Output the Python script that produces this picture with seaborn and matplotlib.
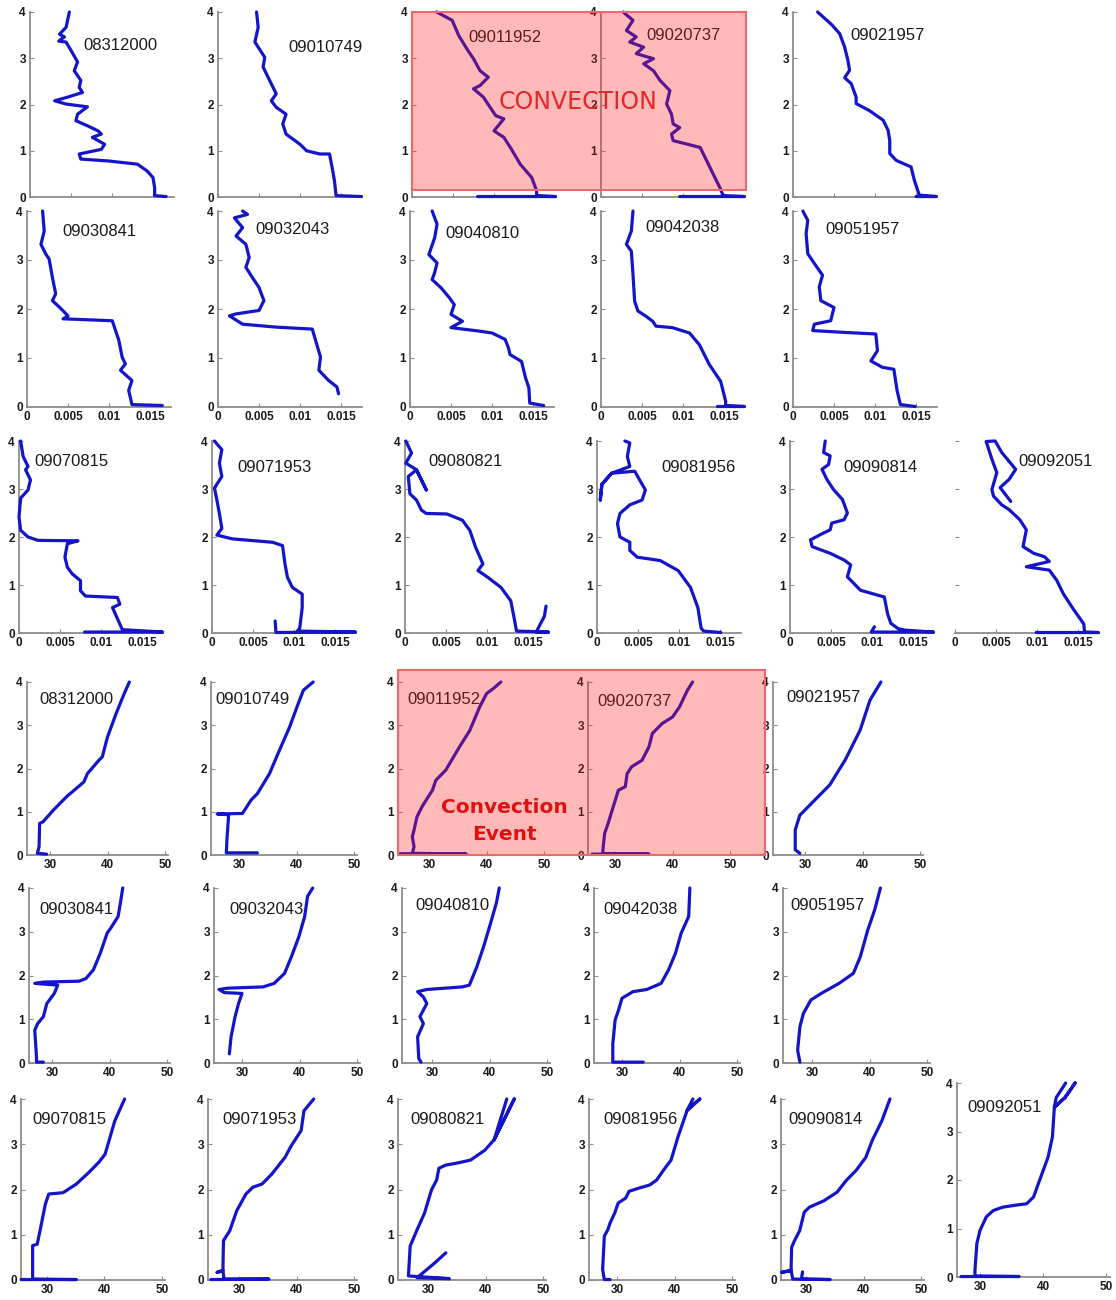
"""
Radiosonde profiles: specific humidity (top) and potential temperature (bottom)
vs height (km), one small panel per launch. Convection event highlighted.
"""

import pandas as pd
import matplotlib
matplotlib.use('Agg')
import matplotlib.pyplot as plt
import seaborn as sns
from matplotlib.patches import Rectangle

# ---- specific humidity (kg/kg), height (km) ----
q_08312000 = [(0.0048, 4.0), (0.0044, 3.67), (0.0036, 3.52), (0.0042, 3.46), (0.0035, 3.37), (0.0044, 3.35),
              (0.0050, 3.17), (0.0058, 2.92), (0.0054, 2.73), (0.0062, 2.52), (0.0060, 2.37), (0.0064, 2.26),
              (0.0046, 2.16), (0.0030, 2.08), (0.0044, 2.01), (0.0070, 1.95), (0.0058, 1.79), (0.0056, 1.65),
              (0.0070, 1.54), (0.0083, 1.43), (0.0087, 1.36), (0.0076, 1.29), (0.0091, 1.14), (0.0087, 1.03),
              (0.0060, 0.93), (0.0062, 0.82), (0.0095, 0.78), (0.0131, 0.71), (0.0143, 0.56), (0.0150, 0.42),
              (0.0152, 0.20), (0.0152, 0.03), (0.0166, 0.01)]
q_09010749 = [(0.0047, 4.0), (0.0049, 3.67), (0.0045, 3.35), (0.0057, 3.02), (0.0055, 2.81), (0.0063, 2.52),
              (0.0071, 2.23), (0.0065, 2.08), (0.0071, 1.94), (0.0083, 1.79), (0.0079, 1.58), (0.0083, 1.36),
              (0.0100, 1.14), (0.0108, 1.00), (0.0124, 0.93), (0.0136, 0.93), (0.0140, 0.56), (0.0142, 0.35),
              (0.0144, 0.03), (0.0175, 0.01)]
q_09011952 = [(0.0030, 4.0), (0.0049, 3.82), (0.0057, 3.49), (0.0067, 3.20), (0.0075, 2.99), (0.0083, 2.73),
              (0.0093, 2.59), (0.0083, 2.41), (0.0075, 2.34), (0.0087, 2.16), (0.0102, 1.76), (0.0112, 1.69),
              (0.0100, 1.43), (0.0112, 1.29), (0.0120, 1.07), (0.0132, 0.71), (0.0146, 0.42), (0.0152, 0.13),
              (0.0152, 0.03), (0.0175, 0.01), (0.0080, 0.01)]
q_09020737 = [(0.0027, 4.0), (0.0039, 3.82), (0.0031, 3.60), (0.0043, 3.46), (0.0035, 3.35), (0.0052, 3.24),
              (0.0043, 3.10), (0.0064, 2.99), (0.0052, 2.88), (0.0064, 2.73), (0.0072, 2.52), (0.0084, 2.30),
              (0.0080, 2.01), (0.0086, 1.79), (0.0088, 1.58), (0.0096, 1.50), (0.0086, 1.36), (0.0088, 1.22),
              (0.0121, 1.07), (0.0129, 0.78), (0.0137, 0.49), (0.0145, 0.20), (0.0149, 0.03), (0.0175, 0.01),
              (0.0096, 0.01)]
q_09021957 = [(0.0030, 4.0), (0.0047, 3.73), (0.0057, 3.53), (0.0063, 3.24), (0.0067, 2.95), (0.0069, 2.74),
              (0.0063, 2.58), (0.0071, 2.45), (0.0077, 2.16), (0.0077, 2.02), (0.0093, 1.87), (0.0110, 1.66),
              (0.0116, 1.44), (0.0118, 1.22), (0.0118, 0.94), (0.0126, 0.79), (0.0144, 0.65), (0.0148, 0.36),
              (0.0154, 0.04), (0.0175, 0.01), (0.0150, 0.01)]
q_09030841 = [(0.0019, 4.0), (0.0021, 3.59), (0.0017, 3.32), (0.0023, 3.12), (0.0027, 3.02), (0.0031, 2.64),
              (0.0035, 2.31), (0.0031, 2.17), (0.0040, 2.03), (0.0050, 1.86), (0.0044, 1.80), (0.0104, 1.76),
              (0.0108, 1.56), (0.0112, 1.36), (0.0116, 1.02), (0.0120, 0.88), (0.0114, 0.75), (0.0128, 0.54),
              (0.0124, 0.34), (0.0128, 0.05), (0.0165, 0.03)]
q_09032043 = [(0.0030, 4.0), (0.0036, 3.93), (0.0020, 3.86), (0.0030, 3.66), (0.0022, 3.49), (0.0034, 3.32),
              (0.0038, 3.05), (0.0034, 2.85), (0.0042, 2.64), (0.0050, 2.44), (0.0056, 2.17), (0.0050, 1.97),
              (0.0022, 1.90), (0.0014, 1.86), (0.0030, 1.69), (0.0071, 1.63), (0.0115, 1.59), (0.0119, 1.36),
              (0.0125, 1.02), (0.0123, 0.75), (0.0135, 0.54), (0.0145, 0.41), (0.0147, 0.27)]
q_09040810 = [(0.0027, 4.0), (0.0033, 3.73), (0.0030, 3.45), (0.0023, 3.11), (0.0033, 2.94), (0.0030, 2.74),
              (0.0027, 2.60), (0.0038, 2.43), (0.0048, 2.23), (0.0054, 2.09), (0.0050, 1.89), (0.0064, 1.75),
              (0.0050, 1.62), (0.0084, 1.55), (0.0100, 1.51), (0.0116, 1.38), (0.0120, 1.21), (0.0122, 1.07),
              (0.0136, 0.93), (0.0141, 0.59), (0.0145, 0.39), (0.0146, 0.08), (0.0163, 0.03)]
q_09042038 = [(0.0039, 4.0), (0.0037, 3.59), (0.0031, 3.32), (0.0037, 3.18), (0.0039, 2.71), (0.0041, 2.16),
              (0.0045, 1.96), (0.0055, 1.85), (0.0063, 1.75), (0.0067, 1.65), (0.0087, 1.62), (0.0108, 1.51),
              (0.0120, 1.27), (0.0132, 0.87), (0.0146, 0.52), (0.0152, 0.12), (0.0152, 0.03), (0.0175, 0.01),
              (0.0142, 0.01)]
q_09051957 = [(0.0012, 4.0), (0.0018, 3.81), (0.0016, 3.54), (0.0018, 3.13), (0.0026, 2.93), (0.0036, 2.69),
              (0.0032, 2.45), (0.0034, 2.17), (0.0050, 2.03), (0.0046, 1.76), (0.0026, 1.69), (0.0024, 1.56),
              (0.0065, 1.52), (0.0101, 1.49), (0.0103, 1.15), (0.0095, 0.94), (0.0109, 0.81), (0.0123, 0.77),
              (0.0127, 0.33), (0.0131, 0.05), (0.0149, 0.01)]
q_09070815 = [(0.0002, 4.0), (0.0005, 3.68), (0.0011, 3.47), (0.0008, 3.40), (0.0014, 3.19), (0.0011, 2.98),
              (0.0002, 2.81), (0.0000, 2.42), (0.0002, 2.14), (0.0011, 2.00), (0.0023, 1.93), (0.0072, 1.92),
              (0.0059, 1.86), (0.0056, 1.58), (0.0059, 1.37), (0.0065, 1.23), (0.0075, 1.09), (0.0075, 0.88),
              (0.0081, 0.77), (0.0120, 0.74), (0.0123, 0.60), (0.0114, 0.53), (0.0126, 0.07), (0.0175, 0.02),
              (0.0080, 0.02)]
q_09071953 = [(0.0003, 4.0), (0.0012, 3.82), (0.0009, 3.54), (0.0012, 3.26), (0.0003, 3.02), (0.0006, 2.77),
              (0.0009, 2.49), (0.0012, 2.18), (0.0006, 2.04), (0.0025, 1.96), (0.0074, 1.89), (0.0086, 1.82),
              (0.0089, 1.44), (0.0092, 1.16), (0.0098, 0.95), (0.0110, 0.81), (0.0110, 0.53), (0.0107, 0.10),
              (0.0104, 0.04), (0.0175, 0.02), (0.0078, 0.01), (0.0077, 0.25)]
q_09080821 = [(0.0001, 4.0), (0.0008, 3.75), (0.0001, 3.54), (0.0014, 3.40), (0.0026, 2.98), (0.0014, 3.40),
              (0.0004, 3.26), (0.0006, 2.90), (0.0014, 2.77), (0.0020, 2.56), (0.0026, 2.49), (0.0051, 2.48),
              (0.0070, 2.35), (0.0079, 2.14), (0.0086, 1.79), (0.0095, 1.44), (0.0089, 1.30), (0.0101, 1.16),
              (0.0117, 0.95), (0.0129, 0.67), (0.0133, 0.32), (0.0136, 0.04), (0.0175, 0.02), (0.0160, 0.02),
              (0.0170, 0.35), (0.0172, 0.56)]
q_09081956 = [(0.0034, 4.0), (0.0040, 3.96), (0.0037, 3.68), (0.0040, 3.47), (0.0018, 3.33), (0.0006, 3.10),
              (0.0004, 2.77), (0.0006, 3.10), (0.0018, 3.33), (0.0046, 3.37), (0.0059, 2.98), (0.0055, 2.77),
              (0.0040, 2.67), (0.0028, 2.49), (0.0025, 2.28), (0.0028, 2.00), (0.0040, 1.89), (0.0040, 1.72),
              (0.0049, 1.58), (0.0077, 1.51), (0.0099, 1.30), (0.0114, 0.95), (0.0123, 0.53), (0.0127, 0.10),
              (0.0130, 0.04), (0.0151, 0.01)]
q_09090814 = [(0.0043, 4.0), (0.0041, 3.76), (0.0049, 3.69), (0.0047, 3.51), (0.0039, 3.41), (0.0045, 3.20),
              (0.0053, 2.99), (0.0064, 2.78), (0.0070, 2.50), (0.0066, 2.36), (0.0051, 2.29), (0.0049, 2.15),
              (0.0037, 2.05), (0.0025, 1.94), (0.0027, 1.80), (0.0049, 1.66), (0.0066, 1.52), (0.0074, 1.42),
              (0.0070, 1.17), (0.0078, 1.03), (0.0086, 0.89), (0.0115, 0.75), (0.0119, 0.40), (0.0123, 0.20),
              (0.0132, 0.09), (0.0140, 0.06), (0.0175, 0.02), (0.0099, 0.02), (0.0103, 0.13)]
q_09092051 = [(0.0068, 2.74), (0.0055, 3.03), (0.0066, 3.20), (0.0074, 3.41), (0.0057, 3.76), (0.0049, 4.0),
              (0.0038, 3.99), (0.0045, 3.62), (0.0051, 3.34), (0.0045, 2.99), (0.0047, 2.85), (0.0057, 2.67),
              (0.0066, 2.57), (0.0079, 2.36), (0.0087, 2.15), (0.0083, 1.80), (0.0096, 1.66), (0.0109, 1.59),
              (0.0115, 1.49), (0.0087, 1.38), (0.0115, 1.31), (0.0124, 1.10), (0.0132, 0.82), (0.0145, 0.48),
              (0.0157, 0.19), (0.0158, 0.02), (0.0175, 0.01), (0.0099, 0.01)]

# ---- potential temperature (C), height (km) ----
th_08312000 = [(43.8, 4.0), (42.9, 3.73), (41.5, 3.27), (40.0, 2.73), (39.1, 2.27), (38.5, 2.19), (36.5, 1.88),
               (35.9, 1.69), (32.9, 1.35), (30.6, 1.04), (28.8, 0.77), (28.2, 0.73), (28.1, 0.19), (27.8, 0.04),
               (29.4, 0.02)]
th_09010749 = [(42.9, 4.0), (41.2, 3.81), (40.3, 3.50), (38.8, 2.96), (36.8, 2.35), (35.3, 1.88), (33.2, 1.42),
               (32.1, 1.27), (30.6, 0.96), (26.2, 0.95), (28.2, 0.93), (27.9, 0.35), (27.8, 0.05), (33.2, 0.05)]
th_09011952 = [(42.5, 4.0), (41.2, 3.85), (40.0, 3.73), (38.8, 3.42), (37.1, 2.88), (35.3, 2.50), (32.9, 1.96),
               (31.2, 1.73), (30.6, 1.50), (28.8, 1.12), (27.9, 0.88), (27.4, 0.58), (27.1, 0.42), (27.4, 0.19),
               (27.1, 0.04), (36.5, 0.02), (25.0, 0.03)]
th_09020737 = [(43.5, 4.0), (42.6, 3.81), (41.2, 3.42), (40.0, 3.19), (38.2, 3.04), (36.5, 2.81), (35.9, 2.50),
               (34.7, 2.19), (32.9, 2.04), (32.1, 1.88), (31.8, 1.58), (30.6, 1.50), (29.7, 1.12), (28.8, 0.73),
               (28.2, 0.50), (27.9, 0.12), (27.9, 0.03), (35.9, 0.02), (26.0, 0.02)]
th_09021957 = [(43.2, 4.0), (41.3, 3.58), (39.6, 2.89), (37.0, 2.20), (34.3, 1.62), (31.7, 1.27), (29.1, 0.92),
               (28.3, 0.58), (28.3, 0.12), (29.1, 0.04)]
th_09030841 = [(42.3, 4.0), (41.9, 3.66), (41.5, 3.35), (40.2, 3.08), (39.6, 2.97), (38.4, 2.51), (37.2, 2.13),
               (35.9, 1.93), (34.7, 1.87), (28.5, 1.85), (27.0, 1.82), (31.0, 1.78), (30.4, 1.59), (29.1, 1.36),
               (28.5, 1.06), (27.5, 0.90), (27.0, 0.75), (27.3, 0.14), (27.3, 0.02), (28.5, 0.02)]
th_09032043 = [(42.3, 4.0), (41.4, 3.81), (40.9, 3.35), (39.9, 2.89), (38.6, 2.43), (37.4, 2.05), (35.6, 1.82),
               (33.7, 1.74), (27.5, 1.71), (26.0, 1.68), (26.9, 1.61), (30.0, 1.59), (29.4, 1.36), (28.8, 1.06),
               (28.1, 0.60), (27.8, 0.21)]
th_09040810 = [(41.7, 4.0), (41.2, 3.66), (40.2, 3.20), (39.0, 2.67), (37.8, 2.20), (36.5, 1.78), (35.3, 1.74),
               (29.1, 1.68), (27.5, 1.63), (28.5, 1.51), (29.1, 1.36), (27.9, 1.06), (28.5, 0.90), (27.5, 0.60),
               (27.7, 0.10), (28.1, 0.02)]
th_09042038 = [(41.8, 4.0), (41.6, 3.35), (40.3, 2.97), (39.3, 2.51), (38.1, 2.13), (36.8, 1.82), (34.3, 1.68),
               (31.9, 1.63), (30.0, 1.48), (29.4, 1.21), (28.8, 0.98), (28.4, 0.44), (28.4, 0.02), (33.7, 0.02)]
th_09051957 = [(41.9, 4.0), (40.9, 3.50), (39.7, 3.04), (38.4, 2.43), (37.2, 2.05), (34.7, 1.82), (31.6, 1.59),
               (29.8, 1.44), (28.5, 1.13), (27.9, 0.83), (27.5, 0.29), (27.9, 0.02)]
th_09070815 = [(43.5, 4.0), (41.8, 3.52), (40.1, 2.78), (39.0, 2.60), (37.3, 2.38), (35.1, 2.12), (32.8, 1.93),
               (30.3, 1.90), (29.7, 1.67), (28.9, 1.16), (28.3, 0.79), (27.5, 0.76), (27.5, 0.02), (35.1, 0.01),
               (25.5, 0.01)]
th_09071953 = [(43.0, 4.0), (41.3, 3.74), (40.8, 3.30), (39.1, 2.97), (38.0, 2.71), (35.7, 2.34), (34.0, 2.12),
               (32.4, 2.05), (31.2, 1.90), (29.6, 1.53), (28.4, 1.09), (27.3, 0.87), (27.2, 0.21), (26.2, 0.17),
               (27.2, 0.21), (27.4, 0.02), (35.2, 0.02), (25.1, 0.01)]
th_09080821 = [(43.7, 4.0), (41.5, 3.10), (45.0, 4.0), (41.5, 3.10), (39.9, 2.87), (37.4, 2.65), (34.9, 2.58),
               (33.1, 2.54), (31.9, 2.47), (31.5, 2.21), (30.6, 1.99), (29.4, 1.48), (28.1, 1.11), (26.9, 0.75),
               (26.6, 0.09), (33.7, 0.03), (28.1, 0.05), (31.2, 0.38), (33.1, 0.60)]
th_09081956 = [(43.2, 4.0), (42.2, 3.75), (44.4, 4.0), (42.2, 3.75), (40.6, 3.16), (39.4, 2.65), (38.1, 2.43),
               (36.9, 2.21), (35.7, 2.10), (33.8, 2.03), (32.1, 1.96), (31.5, 1.81), (30.2, 1.70), (29.6, 1.48),
               (28.8, 1.26), (28.4, 1.11), (27.8, 0.97), (27.5, 0.23), (27.8, 0.01), (28.8, 0.01)]
th_09090814 = [(44.6, 4.0), (43.2, 3.52), (41.5, 3.08), (40.4, 2.71), (38.7, 2.42), (37.0, 2.20), (35.4, 1.94),
               (33.1, 1.75), (30.6, 1.61), (29.7, 1.50), (28.9, 1.09), (28.0, 0.87), (27.5, 0.72), (27.4, 0.21),
               (25.8, 0.17), (27.4, 0.21), (27.7, 0.02), (34.2, 0.01), (29.2, 0.02), (29.4, 0.18)]
th_09092051 = [(43.6, 4.0), (42.1, 3.70), (41.8, 3.50), (43.5, 3.70), (45.1, 4.0), (43.5, 3.70), (41.8, 3.50),
               (41.5, 2.89), (40.8, 2.47), (39.5, 2.01), (38.5, 1.65), (37.4, 1.51), (35.6, 1.48), (33.6, 1.44),
               (32.1, 1.37), (31.0, 1.24), (30.0, 0.96), (29.5, 0.69), (29.2, 0.14), (29.2, 0.02), (36.2, 0.01),
               (27.0, 0.01)]

Q_TICKS = [0, 0.005, 0.01, 0.015]
Q_TICKLABELS = ['0', '0.005', '0.01', '0.015']
TH_TICKS = [30, 40, 50]
TH_TICKLABELS = ['30', '40', '50']
Z_TICKS = [0, 1, 2, 3, 4]
Z_TICKLABELS = ['0', '1', '2', '3', '4']

W, H = 1116, 1300
BLUE = '#1414c8'
GREY = '#8c8c8c'
Q_MAX = 0.0175
Q_PPU = 8200.0   # pixels per kg/kg
TH_MAX = 50.6

sns.set_style('white')
plt.rcParams['font.family'] = ['Liberation Sans', 'DejaVu Sans']

fig = plt.figure(figsize=(W / 100, H / 100), dpi=100)


def fx(x):
    return x / W


def fy(y):
    return 1 - y / H


def make_axes(left, top, right, bottom):
    return fig.add_axes([fx(left), fy(bottom), (right - left) / W, (bottom - top) / H])


def draw_profile(ax, pts):
    df = pd.DataFrame(pts, columns=['x', 'z'])
    sns.lineplot(data=df, x='x', y='z', sort=False, estimator=None, color=BLUE,
                 lw=2.3, ax=ax, legend=False)
    for ln in ax.lines:
        ln.set_clip_on(False)
        ln.set_zorder(3)
        ln.set_solid_joinstyle('round')
        ln.set_solid_capstyle('round')


def style_axes(ax, ticks, ticklabels, show_x=True, show_y=True, hide_left=False):
    sns.despine(ax=ax)
    for s in ['left', 'bottom']:
        ax.spines[s].set_color(GREY)
        ax.spines[s].set_linewidth(1.3)
    if hide_left:
        ax.spines['left'].set_visible(False)
    ax.set_ylim(0, 4)
    ax.set_yticks(Z_TICKS)
    ax.set_yticklabels(Z_TICKLABELS if show_y else [])
    ax.set_xticks(ticks)
    ax.set_xticklabels(ticklabels if show_x else [])
    ax.tick_params(bottom=True, left=True, direction='in', length=3, width=0.8,
                   color=GREY, labelsize=8.5, labelcolor='#1a1a1a', pad=3)
    for t in ax.get_xticklabels() + ax.get_yticklabels():
        t.set_fontweight('bold')
    ax.set_xlabel('')
    ax.set_ylabel('')
    ax.patch.set_alpha(0)


def label(x, y, text):
    fig.text(fx(x), fy(y), text, ha='left', va='center', fontsize=12, color='#1a1a1a', zorder=3)


# humidity panels: (profile, name, spine left, top, bottom, label x, label y, x labels, y labels)
q_panels = [
    (q_08312000, '08312000', 30, 12, 197, 83, 45, False, True),
    (q_09010749, '09010749', 218, 12, 197, 288, 47, False, True),
    (q_09011952, '09011952', 412, 12, 197, 468, 38, False, True),
    (q_09020737, '09020737', 601, 12, 197, 646, 35, False, True),
    (q_09021957, '09021957', 793, 12, 197, 850, 35, False, True),
    (q_09030841, '09030841', 27, 211, 407, 62, 232, True, True),
    (q_09032043, '09032043', 218, 211, 407, 255, 230, True, True),
    (q_09040810, '09040810', 410, 211, 407, 445, 233, True, True),
    (q_09042038, '09042038', 601, 211, 407, 645, 228, True, True),
    (q_09051957, '09051957', 793, 211, 407, 825, 230, True, True),
    (q_09070815, '09070815', 19, 441, 633, 34, 462, True, True),
    (q_09071953, '09071953', 212, 441, 633, 237, 467, True, True),
    (q_09080821, '09080821', 405, 441, 633, 428, 462, True, True),
    (q_09081956, '09081956', 597, 441, 633, 661, 467, True, True),
    (q_09090814, '09090814', 790, 441, 633, 843, 467, True, True),
    (q_09092051, '09092051', 955, 441, 633, 1018, 462, True, False),
]

for prof, name, left, top, bottom, lx, ly, sx, sy in q_panels:
    ax = make_axes(left, top, left + Q_MAX * Q_PPU, bottom)
    draw_profile(ax, prof)
    ax.set_xlim(0, Q_MAX)
    style_axes(ax, Q_TICKS, Q_TICKLABELS, show_x=sx, show_y=sy, hide_left=not sy)
    label(lx, ly, name)

# theta panels: (profile, name, spine left, x of 30 tick, px per K, top, bottom, label x, label y)
th_panels = [
    (th_08312000, '08312000', 27, 50, 5.75, 682, 855, 39, 700),
    (th_09010749, '09010749', 211, 239, 5.75, 682, 855, 215, 700),
    (th_09011952, '09011952', 398, 429, 5.75, 682, 855, 407, 700),
    (th_09020737, '09020737', 588, 615, 5.75, 682, 855, 597, 702),
    (th_09021957, '09021957', 773, 805, 5.75, 682, 855, 786, 697),
    (th_09030841, '09030841', 29, 52, 5.75, 888, 1063, 39, 910),
    (th_09032043, '09032043', 214, 242, 5.75, 888, 1063, 229, 910),
    (th_09040810, '09040810', 402, 432, 5.75, 888, 1063, 415, 905),
    (th_09042038, '09042038', 594, 622, 5.75, 888, 1063, 603, 909),
    (th_09051957, '09051957', 783, 812, 5.75, 888, 1063, 790, 905),
    (th_09070815, '09070815', 21, 47, 5.75, 1099, 1280, 32, 1120),
    (th_09071953, '09071953', 208, 239, 5.75, 1099, 1280, 222, 1120),
    (th_09080821, '09080821', 398, 428, 5.75, 1099, 1280, 410, 1120),
    (th_09081956, '09081956', 589, 617, 5.75, 1099, 1280, 603, 1120),
    (th_09090814, '09090814', 781, 806, 5.75, 1099, 1280, 788, 1120),
    (th_09092051, '09092051', 957, 980, 6.3, 1083, 1277, 967, 1108),
]

for prof, name, left, x30, ppu, top, bottom, lx, ly in th_panels:
    lo = 30 - (x30 - left) / ppu
    ax = make_axes(left, top, left + (TH_MAX - lo) * ppu, bottom)
    draw_profile(ax, prof)
    ax.set_xlim(lo, TH_MAX)
    style_axes(ax, TH_TICKS, TH_TICKLABELS)
    label(lx, ly, name)

# convection highlight boxes
for x0, y0, x1, y1 in [(412, 12, 746, 190), (398, 670, 765, 855)]:
    fig.patches.append(Rectangle((fx(x0), fy(y1)), (x1 - x0) / W, (y1 - y0) / H,
                                 transform=fig.transFigure, facecolor='#ff1a1a', alpha=0.3,
                                 edgecolor='none', zorder=5))
    fig.patches.append(Rectangle((fx(x0), fy(y1)), (x1 - x0) / W, (y1 - y0) / H,
                                 transform=fig.transFigure, facecolor='none',
                                 edgecolor='#e86a6a', lw=1.5, zorder=5))

fig.text(fx(578), fy(102), 'CONVECTION', ha='center', va='center', fontsize=17,
         color='#e02828', family='DejaVu Sans', zorder=6)
fig.text(fx(504), fy(821), 'Convection\nEvent', ha='center', va='center', fontsize=14.5,
         fontweight='bold', color='#e01010', linespacing=1.55, family='DejaVu Sans', zorder=6)

fig.savefig('out.png', dpi=100, facecolor='white')
